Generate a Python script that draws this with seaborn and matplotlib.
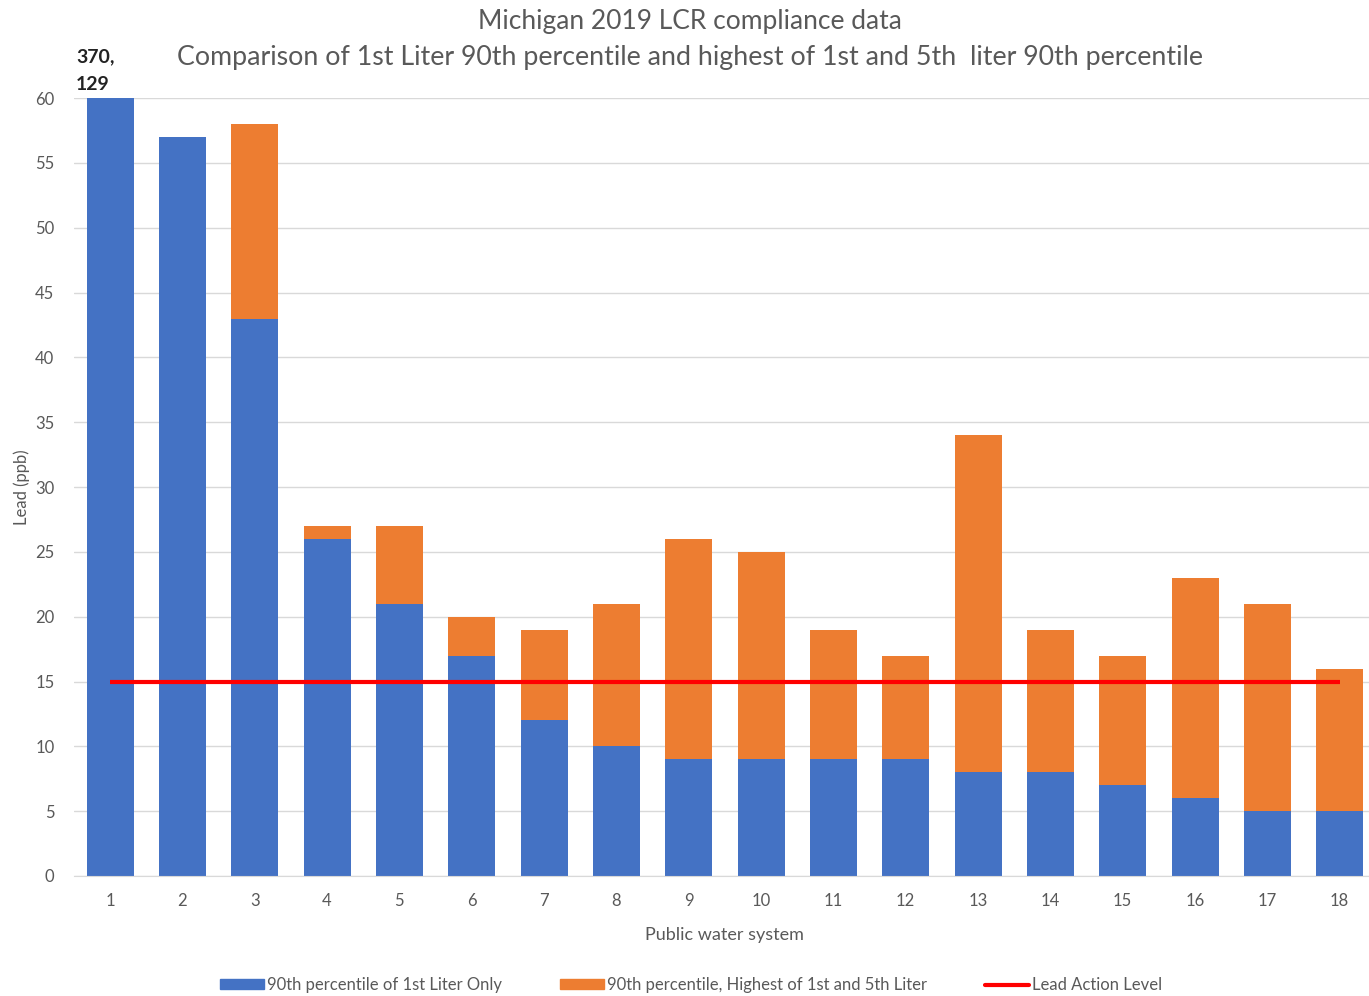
import pandas as pd
import matplotlib
matplotlib.use("Agg")
import matplotlib.pyplot as plt
import seaborn as sns
from matplotlib.patches import Patch
from matplotlib.lines import Line2D

# Michigan 2019 LCR compliance data (ppb)
systems = [str(i) for i in range(1, 19)]
first_liter = [370, 57, 43, 26, 21, 17, 12, 10, 9, 9, 9, 9, 8, 8, 7, 6, 5, 5]
highest_1st_5th = [129, 57, 58, 27, 27, 20, 19, 21, 26, 25, 19, 17, 34, 19, 17, 23, 21, 16]
action_level = 15

df = pd.DataFrame({"system": systems, "first": first_liter, "highest": highest_1st_5th})

blue = "#4472C4"
orange = "#ED7D31"
grey = "#595959"

sns.set_style("white")
plt.rcParams["font.family"] = ["Lato", "DejaVu Sans"]

fig = plt.figure(figsize=(13.69, 9.96), dpi=100)
ax = fig.add_axes([0.054, 0.1205, 0.951, 0.781])

# orange = highest of 1st and 5th liter, blue drawn over it
sns.barplot(data=df, x="system", y="highest", order=systems, color=orange,
            saturation=1, width=0.65, linewidth=0, ax=ax)
sns.barplot(data=df, x="system", y="first", order=systems, color=blue,
            saturation=1, width=0.65, linewidth=0, ax=ax)
ax.hlines(action_level, 0, len(systems) - 1, color="#FF0000", linewidth=3, zorder=5)

ax.set_ylim(0, 60)
ax.set_xlim(-0.5, len(systems) - 0.5)
ax.set_yticks(range(0, 61, 5))
ax.yaxis.grid(True, color="#D9D9D9", linewidth=1)
ax.set_axisbelow(True)
for s in ["top", "right", "left"]:
    ax.spines[s].set_visible(False)
ax.spines["bottom"].set_color("#D9D9D9")
ax.tick_params(axis="both", length=0, labelsize=12, labelcolor=grey)
ax.tick_params(axis="x", pad=12)
ax.tick_params(axis="y", pad=14)

ax.set_xlabel("Public water system", fontsize=13, color=grey, labelpad=13)
ax.set_ylabel("Lead (ppb)", fontsize=12, color=grey, labelpad=4)

fig.text(0.504, 0.978, "Michigan 2019 LCR compliance data", ha="center", va="center",
         fontsize=19, color=grey)
fig.text(0.504, 0.942, "Comparison of 1st Liter 90th percentile and highest of 1st and 5th  liter 90th percentile",
         ha="center", va="center", fontsize=19.3, color=grey)
ax.text(-0.47, 60.4, f"{first_liter[0]},\n{highest_1st_5th[0]}", ha="left", va="bottom",
        fontsize=14, fontweight="bold", color="#222222", linespacing=1.75)

handles = [Patch(color=blue, label="90th percentile of 1st Liter Only"),
           Patch(color=orange, label="90th percentile, Highest of 1st and 5th Liter"),
           Line2D([0], [0], color="#FF0000", linewidth=3, label="Lead Action Level")]
fig.legend(handles=handles, loc="center", bbox_to_anchor=(0.505, 0.011), ncol=3,
           frameon=False, fontsize=12, labelcolor=grey, handlelength=2.6, handleheight=0.5,
           columnspacing=3.5, handletextpad=0.2)

fig.savefig("out.png", dpi=100)
